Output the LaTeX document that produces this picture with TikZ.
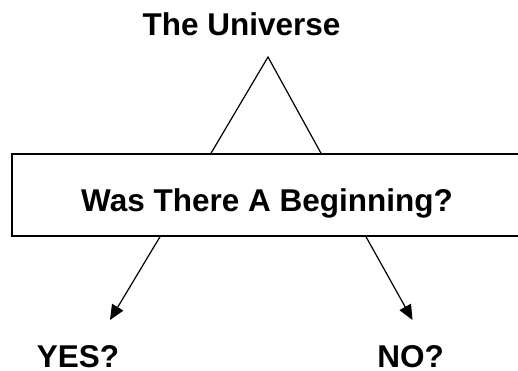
\documentclass[tikz,border=0pt]{standalone}
\usepackage{fontspec}
\setmainfont{Liberation Sans}
\usetikzlibrary{arrows.meta}

\tikzset{
  bigtext/.style={font=\bfseries\fontsize{31.5}{36}\selectfont, inner sep=0pt},
  qbox/.style={draw, line width=1.5pt, inner sep=0pt, minimum width=510pt, minimum height=82pt, text height=34pt, text depth=2pt},
  pointer/.style={line width=1.2pt, -{Triangle[length=15pt,width=13pt]}}
}

\begin{document}
\begin{tikzpicture}[x=1pt,y=-1pt]
\useasboundingbox (0,0) rectangle (518,371);
\node[bigtext, anchor=base] (universe) at (241.5,36) {The Universe};
\node[qbox, bigtext] (question) at (267,195) {Was There A Beginning?};
\coordinate (apex) at (268,57);
\draw[line width=1.2pt] (question.north -| 211,0) -- (apex) -- (question.north -| 321,0);
\node[bigtext, anchor=base] (yes) at (78,367) {YES?};
\node[bigtext, anchor=base] (no) at (410.5,367) {NO?};
\coordinate (yestip) at (110,320);
\coordinate (notip) at (412.5,320);
\draw[pointer] (question.south -| 160,0) -- (yestip);
\draw[pointer] (question.south -| 366,0) -- (notip);
\end{tikzpicture}
\end{document}
